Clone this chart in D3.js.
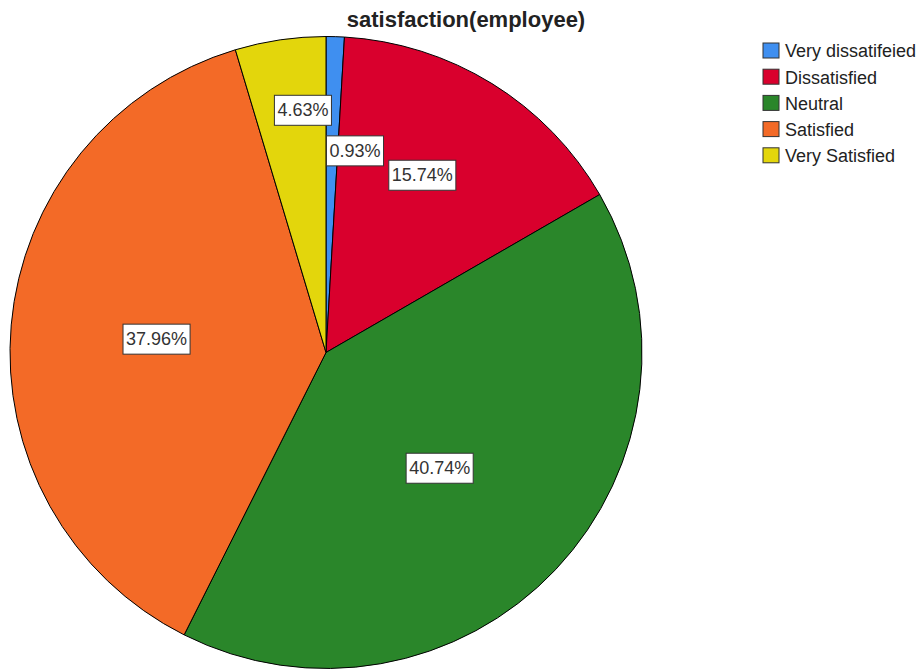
<!DOCTYPE html>
<html><head><meta charset="utf-8">
<script src="https://cdn.jsdelivr.net/npm/d3@7"></script>
<style>body{margin:0;background:#fff;font-family:Arial,"Liberation Sans",sans-serif;}</style>
</head><body><svg id="c" width="921" height="670"></svg>
<script>
const categories = ["Very dissatifeied","Dissatisfied","Neutral","Satisfied","Very Satisfied"];
const values = [0.93, 15.74, 40.74, 37.96, 4.63];
const colors = ["#3f8ff0","#d9002d","#2a862a","#f36a27","#e3d60c"];
const title = "satisfaction(employee)";

const svg = d3.select("#c");
const cx = 326, cy = 352.5, R = 316;
// label placement (radius px, angle shift deg) to avoid overlaps, as in the reference
const labelR = [204, 202, 162, 170, 243.6];
const labelShift = [6.5, -3.2, 2.1, -0.4, 2.9];

svg.append("text").attr("x",466).attr("y",27).attr("text-anchor","middle")
  .attr("font-size",22).attr("font-weight","bold").attr("fill","#222").text(title);

const pie = d3.pie().sort(null).value(d=>d)(values);
const arc = d3.arc().innerRadius(0).outerRadius(R);
const g = svg.append("g").attr("transform",`translate(${cx},${cy})`);
g.selectAll("path").data(pie).join("path").attr("d",arc)
  .attr("fill",(d,i)=>colors[i]).attr("stroke","#000").attr("stroke-width",1);

const lab = g.append("g");
pie.forEach((d,i)=>{
  const a = (d.startAngle+d.endAngle)/2 + labelShift[i]*Math.PI/180;
  const x = Math.sin(a)*labelR[i], y = -Math.cos(a)*labelR[i];
  const t = lab.append("text").attr("x",x).attr("y",y).attr("dy","0.35em")
    .attr("text-anchor","middle").attr("font-size",18).attr("fill","#333")
    .text(values[i].toFixed(2)+"%");
  const bb = t.node().getBBox();
  lab.insert("rect","text").attr("x",bb.x-3).attr("y",bb.y-5).attr("width",bb.width+6).attr("height",bb.height+10)
    .attr("fill","#fff").attr("stroke","#333").attr("stroke-width",1);
});
lab.selectAll("text").raise();

const lg = svg.append("g").attr("transform","translate(763,43)");
categories.forEach((c,i)=>{
  const row = lg.append("g").attr("transform",`translate(0,${i*26.2})`);
  row.append("rect").attr("width",16).attr("height",15).attr("fill",colors[i]).attr("stroke","#333").attr("stroke-width",1);
  row.append("text").attr("x",22).attr("y",8).attr("dy","0.35em").attr("font-size",18).attr("fill","#222").text(c);
});
</script></body></html>
